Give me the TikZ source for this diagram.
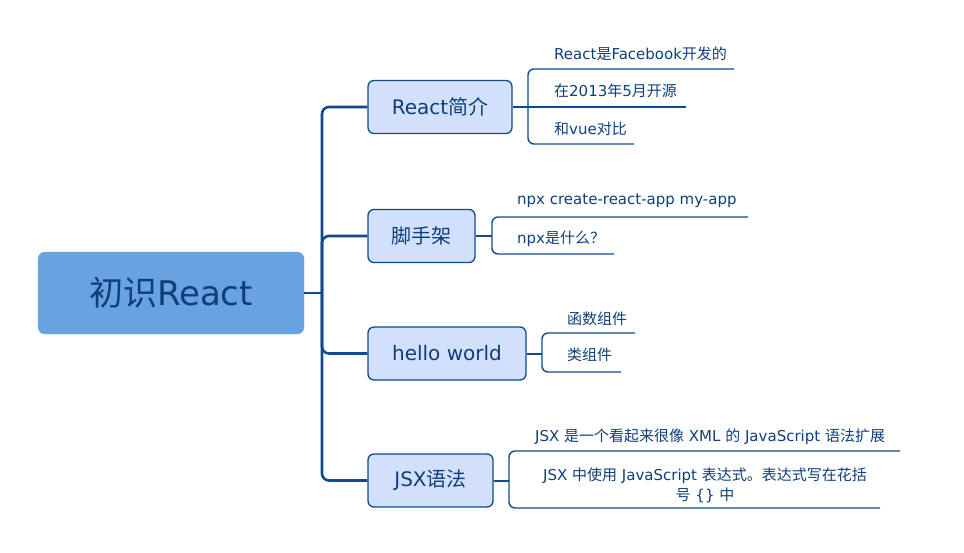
\documentclass[tikz,border=0pt]{standalone}
\usepackage{fontspec}
\setmainfont{DejaVu Sans}
\newfontfamily\cjk{Noto Sans CJK SC}
\definecolor{linec}{HTML}{0F4A8C}
\definecolor{textc}{HTML}{0E3F7C}
\definecolor{boxfill}{HTML}{D3E0FC}
\definecolor{rootfill}{HTML}{68A2E0}
\tikzset{
  rootbox/.style={draw=rootfill!90!white, fill=rootfill, rounded corners=7pt, minimum width=266pt, minimum height=82pt, inner sep=0pt, text=textc, font=\fontsize{34}{40}\selectfont},
  childbox/.style={draw=linec, line width=1.3pt, fill=boxfill, rounded corners=6pt, minimum height=53pt, inner sep=0pt, text=textc, font=\fontsize{20}{24}\selectfont},
  trunk/.style={draw=linec, line width=2.6pt, rounded corners=7pt},
  branch/.style={draw=linec, line width=2pt},
  subline/.style={draw=linec, line width=1.4pt, rounded corners=6pt},
  subtext/.style={anchor=west, inner sep=0pt, text=textc, font=\fontsize{15}{20}\selectfont}
}
\begin{document}
\begin{tikzpicture}[x=1pt,y=-1pt]
\useasboundingbox (0,0) rectangle (964,552);
% root
\node[rootbox] (root) at (171,293) {{\cjk 初识}React};
% children
\node[childbox, minimum width=144pt] (c1) at (440,107) {React{\cjk 简介}};
\node[childbox, minimum width=107pt] (c2) at (421.5,236) {{\cjk 脚手架}};
\node[childbox, minimum width=158pt] (c3) at (447,353.5) {hello world};
\node[childbox, minimum width=125pt] (c4) at (430.5,480.5) {JSX{\cjk 语法}};
% trunk
\coordinate (J) at (322,293);
\draw[branch, line width=2.6pt] (root.east) -- (J);
\draw[trunk] (J) |- (c1.west);
\draw[trunk] (J) |- (c2.west);
\draw[trunk] (J) |- (c3.west);
\draw[trunk] (J) |- (c4.west);
% c1 group
\coordinate (b1) at (528,107);
\draw[branch] (c1.east) -- (b1);
\draw[subline] (734,69) -- (528,69) -- (528,144) -- (634,144);
\draw[subline] (b1) -- (686,107);
\node[subtext] (s11) at (554,54) {React{\cjk 是}Facebook{\cjk 开发的}};
\node[subtext] (s12) at (554,91) {{\cjk 在}2013{\cjk 年}5{\cjk 月开源}};
\node[subtext] (s13) at (554,129) {{\cjk 和}vue{\cjk 对比}};
% c2 group
\coordinate (b2) at (492,236);
\draw[branch] (c2.east) -- (b2);
\draw[subline] (748,217) -- (492,217) -- (492,254) -- (614,254);
\node[subtext] (s21) at (517,201) {npx create-react-app my-app};
\node[subtext] (s22) at (517,239) {npx{\cjk 是什么？}};
% c3 group
\coordinate (b3) at (542,353.5);
\draw[branch] (c3.east) -- (b3);
\draw[subline] (635,333) -- (542,333) -- (542,372) -- (621,372);
\node[subtext] (s31) at (567,319) {{\cjk 函数组件}};
\node[subtext] (s32) at (567,355) {{\cjk 类组件}};
% c4 group
\coordinate (b4) at (509,480.5);
\draw[branch] (c4.east) -- (b4);
\draw[subline] (900,451) -- (509,451) -- (509,508) -- (880,508);
\node[subtext] (s41) at (535,437) {JSX {\cjk 是一个看起来很像} XML {\cjk 的} JavaScript {\cjk 语法扩展}};
\node[subtext, anchor=center, align=center] (s42) at (705,485) {JSX {\cjk 中使用} JavaScript {\cjk 表达式。表达式写在花括}\\{\cjk 号} \{\} {\cjk 中}};
\end{tikzpicture}
\end{document}
